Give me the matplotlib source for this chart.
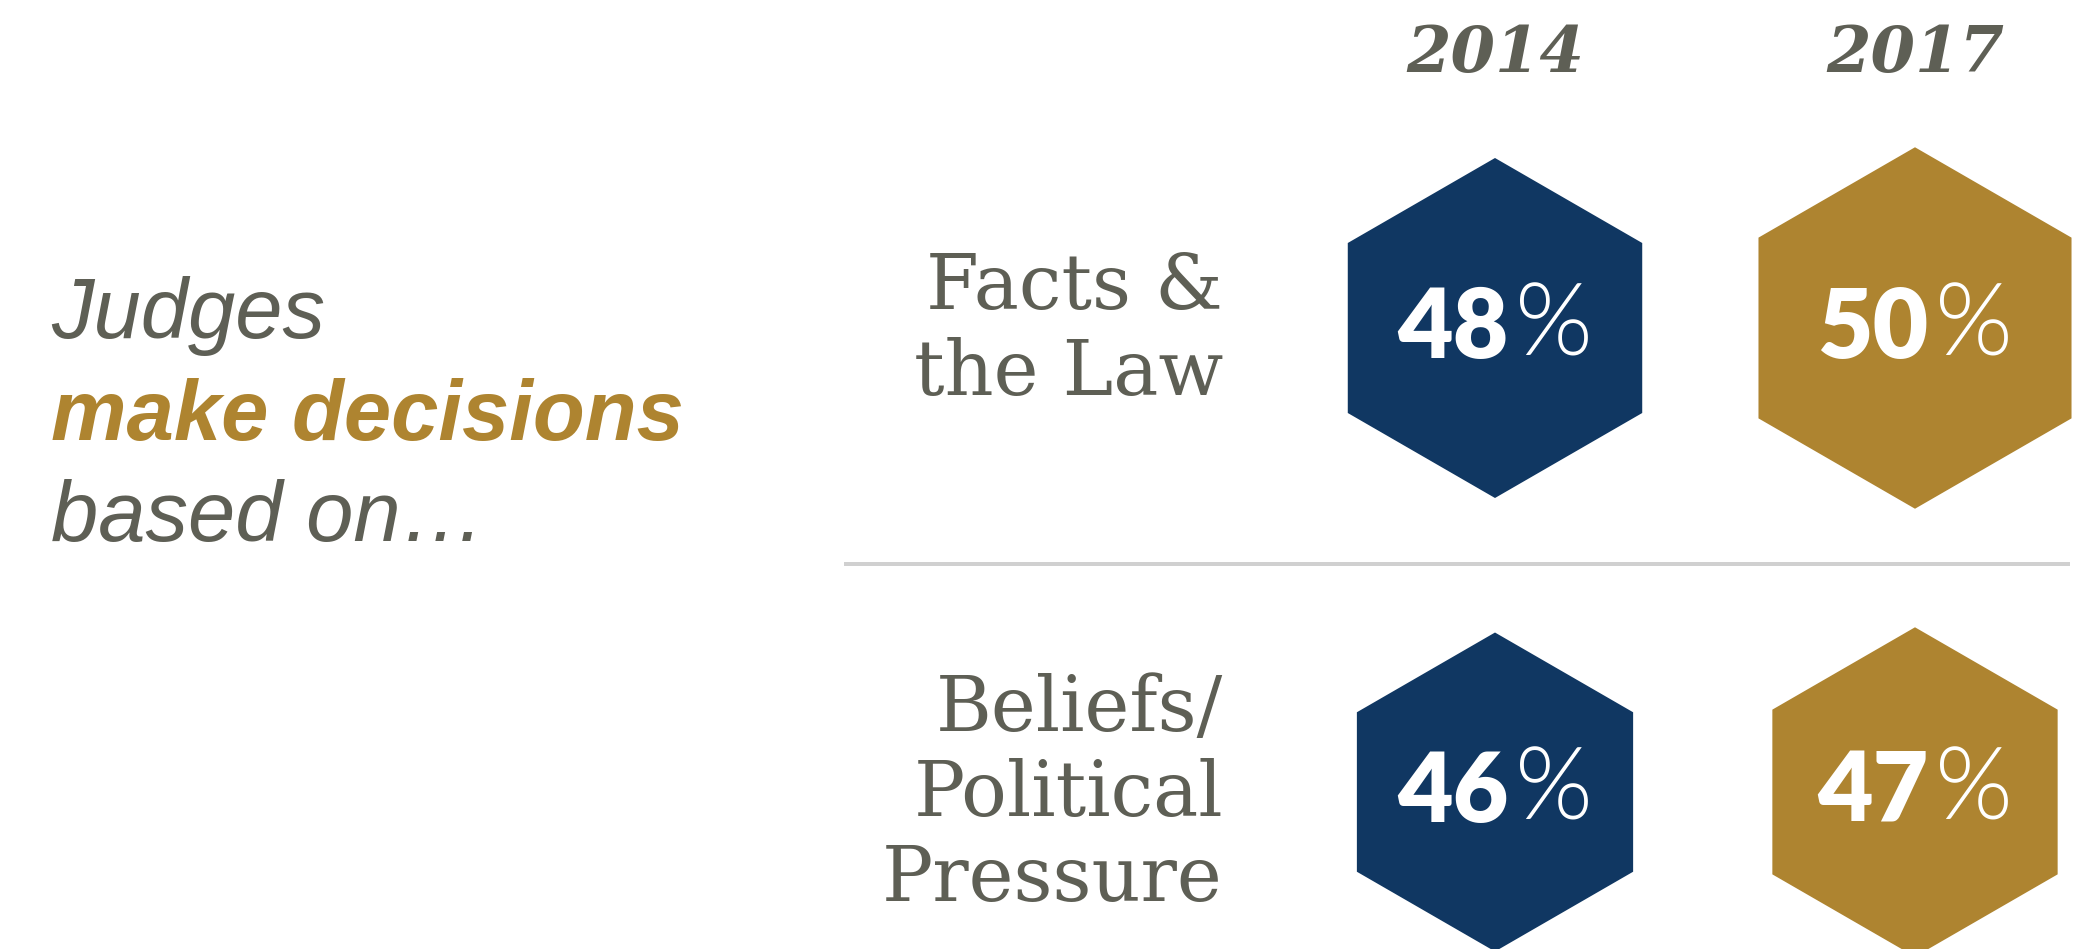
import matplotlib

matplotlib.use("Agg")
import matplotlib.pyplot as plt
from matplotlib.patches import RegularPolygon

# survey values (percent of respondents)
years = ["2014", "2017"]
factors = ["Facts &\nthe Law", "Beliefs/\nPolitical\nPressure"]
pct_2014 = [48, 46]
pct_2017 = [50, 47]
headline = ["Judges", "make decisions", "based on\u2026"]

NAVY = "#103762"
GOLD = "#ae8430"
GRAY = "#5e5f55"
RULE = "#d0d0d0"
year_colors = [NAVY, GOLD]

W, H, DPI = 2095, 949, 100
PT = 72 / DPI  # pixels -> points

# layout (pixels, y downward)
COL_X0, COL_STEP = 1495, 420
ROW_Y0, ROW_STEP = 328, 464
LABEL_RIGHT = 1223
LABEL_LINE = 85
SEP_Y = 564
HEX_K = 170 / 48 ** 1.5  # hexagon radius grows with value


def main():
    fig = plt.figure(figsize=(W / DPI, H / DPI), dpi=DPI)
    ax = fig.add_axes([0, 0, 1, 1])
    ax.set_xlim(0, W)
    ax.set_ylim(H, 0)
    ax.axis("off")

    # left headline
    for i, line in enumerate(headline):
        bold = i == 1
        ax.text(51, 338 + i * 101.5, line, ha="left", va="baseline",
                fontsize=85 * PT, family="Liberation Sans", style="italic",
                fontweight="bold" if bold else "normal",
                color=GOLD if bold else GRAY)

    # year headers
    for j, yr in enumerate(years):
        ax.text(COL_X0 + j * COL_STEP, 72, yr, ha="center", va="baseline",
                fontsize=64 * PT, family="DejaVu Serif", style="italic",
                fontweight="bold", color=GRAY)

    # row labels
    for i, lab in enumerate(factors):
        cy = ROW_Y0 + i * ROW_STEP
        lines = lab.split("\n")
        first = cy - (len(lines) - 1) * LABEL_LINE / 2 + 24
        for k, ln in enumerate(lines):
            ax.text(LABEL_RIGHT, first + k * LABEL_LINE, ln, ha="right",
                    va="baseline", fontsize=76 * PT, family="DejaVu Serif",
                    color=GRAY)

    ax.plot([844, 2070], [SEP_Y, SEP_Y], color=RULE, lw=4 * PT,
            solid_capstyle="butt")

    # hexagons with values
    pairs = []
    for j, vals in enumerate([pct_2014, pct_2017]):
        cx = COL_X0 + j * COL_STEP
        for i, v in enumerate(vals):
            cy = ROW_Y0 + i * ROW_STEP
            r = HEX_K * v ** 1.5
            ax.add_patch(RegularPolygon((cx, cy), numVertices=6, radius=r,
                                        orientation=0, facecolor=year_colors[j],
                                        edgecolor="none"))
            t1 = ax.text(cx, cy + 30, str(v), ha="right", va="baseline",
                         fontsize=96 * PT, family="Lato", fontweight="heavy",
                         color="white")
            t2 = ax.text(cx, cy + 28, "%", ha="left", va="baseline",
                         fontsize=100 * PT, family="Lato", fontweight=300,
                         color="white")
            pairs.append((cx, t1, t2))

    fig.canvas.draw()
    rend = fig.canvas.get_renderer()
    gap = 6
    for cx, t1, t2 in pairs:
        w1 = t1.get_window_extent(rend).width
        w2 = t2.get_window_extent(rend).width
        left = cx - (w1 + w2 + gap) / 2
        t1.set_x(left + w1)
        t2.set_x(left + w1 + gap)

    fig.savefig("out.png", dpi=DPI)
    plt.close(fig)


if __name__ == "__main__":
    main()
